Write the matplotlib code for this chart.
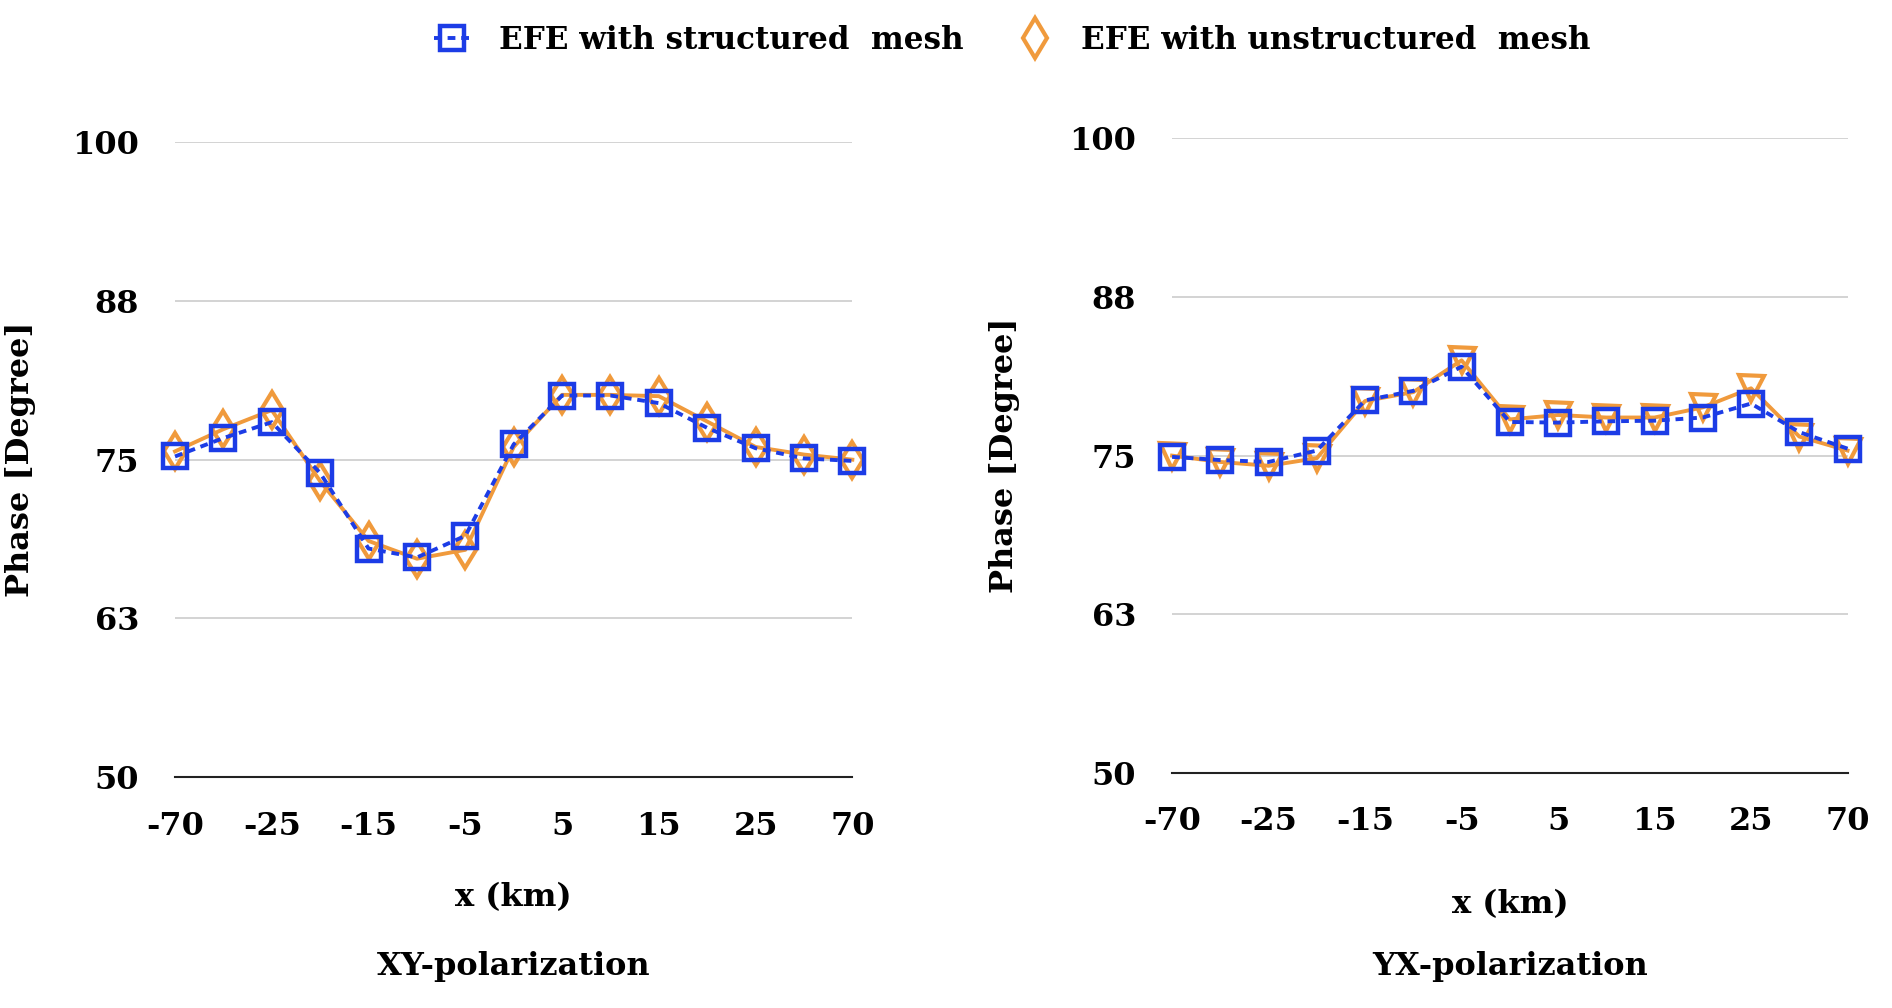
import numpy as np
import matplotlib
matplotlib.use("Agg")
import matplotlib.pyplot as plt
from matplotlib.lines import Line2D

# x positions (km); only every other one carries a label on the chart
x_labels = ["-70", "", "-25", "", "-15", "", "-5", "", "5", "", "15", "", "25", "", "70"]

xy_structured = [75.25, 76.7, 77.95, 73.95, 68.0, 67.3, 69.0, 76.2, 80.05, 80.05, 79.45, 77.5, 75.9, 75.1, 74.9]
xy_unstructured = [75.65, 77.4, 78.9, 73.3, 68.6, 67.2, 67.9, 76.0, 80.1, 80.1, 80.0, 78.0, 76.0, 75.4, 75.0]

yx_structured = [74.9, 74.65, 74.5, 75.4, 79.35, 80.1, 82.0, 77.65, 77.6, 77.7, 77.75, 78.0, 79.1, 76.85, 75.55]
yx_unstructured = [75.0, 74.5, 74.2, 74.8, 79.3, 80.0, 82.5, 77.85, 78.2, 78.0, 78.0, 78.8, 80.3, 76.5, 75.4]

y_ticks = [50, 62.5, 75, 87.5, 100]
y_tick_labels = ["50", "63", "75", "88", "100"]

blue = "#1c3ce6"
orange = "#f09a3c"
font = "DejaVu Serif"
fs = 23

plt.rcParams['font.family'] = [font]
plt.rcParams['font.weight'] = 'bold'

fig = plt.figure(figsize=(18.92, 10.08), dpi=100)
ax1 = fig.add_axes([0.0925, 0.229, 0.358, 0.630])
ax2 = fig.add_axes([0.6195, 0.233, 0.357, 0.630])


def draw_panel(ax, structured, unstructured, umarker, title, ylab_x, xlab_y, title_y):
    x = np.arange(len(x_labels))
    ax.plot(x, unstructured, color=orange, lw=2.8, marker=umarker, ms=18,
            mfc="none", mec=orange, mew=3.0, clip_on=False, zorder=3)
    ax.plot(x, structured, color=blue, lw=2.8, ls=(0, (2.0, 1.5)), marker="s", ms=17,
            mfc="none", mec=blue, mew=3.2, clip_on=False, zorder=4)
    ax.set_xlim(0, len(x_labels) - 1)
    ax.set_ylim(50, 100)
    ax.set_yticks(y_ticks)
    ax.set_yticklabels(y_tick_labels)
    ax.set_xticks(x)
    ax.set_xticklabels(x_labels)
    ax.grid(axis='y', color="#d0d0d0", lw=1.3)
    ax.set_axisbelow(True)
    for s in ["top", "right", "left"]:
        ax.spines[s].set_visible(False)
    ax.spines["bottom"].set_color("#222222")
    ax.spines["bottom"].set_linewidth(1.5)
    ax.tick_params(axis='both', length=0, labelsize=fs)
    ax.tick_params(axis='x', pad=24)
    ax.tick_params(axis='y', pad=26)
    ax.set_ylabel("Phase [Degree]", fontsize=fs, fontweight='bold')
    ax.yaxis.set_label_coords(ylab_x, 0.5)
    ax.set_xlabel("x (km)", fontsize=fs, fontweight='bold')
    ax.xaxis.set_label_coords(0.5, xlab_y)
    ax.text(0.5, title_y, title, transform=ax.transAxes, ha='center', va='center',
            fontsize=fs, fontweight='bold')


draw_panel(ax1, xy_structured, xy_unstructured, "d", "XY-polarization", -0.205, -0.165, -0.298)
draw_panel(ax2, yx_structured, yx_unstructured, "v", "YX-polarization", -0.225, -0.182, -0.304)

handles = [
    Line2D([], [], color=blue, lw=2.8, ls=(0, (2.0, 1.5)), marker="s", ms=17,
           mfc="none", mec=blue, mew=3.2),
    Line2D([], [], color=orange, lw=0, marker="d", ms=20,
           mfc="none", mec=orange, mew=3.0),
]
fig.legend(handles, ["EFE with structured  mesh", "EFE with unstructured  mesh"],
           loc="center", bbox_to_anchor=(0.535, 0.96), ncol=2, frameon=False,
           fontsize=22.3, handlelength=1.2, columnspacing=1.7, handletextpad=0.9)

fig.savefig("out.png", dpi=100)
